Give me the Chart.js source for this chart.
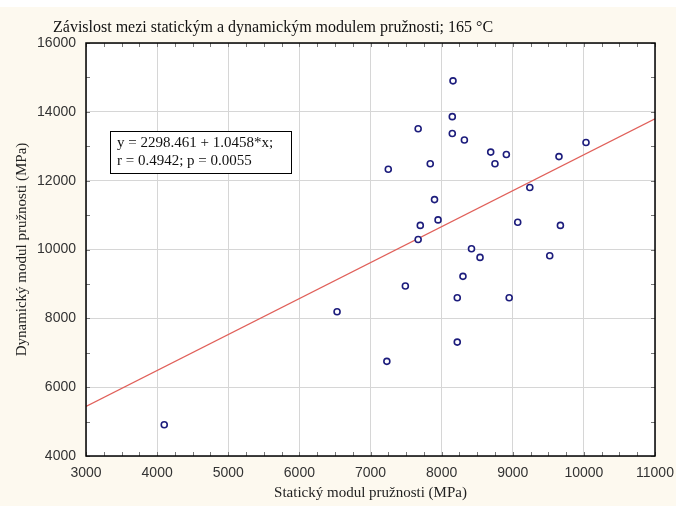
<!DOCTYPE html>
<html lang="cs">
<head>
  <meta charset="UTF-8" />
  <title>Závislost mezi statickým a dynamickým modulem pružnosti</title>
  <script src="https://cdn.jsdelivr.net/npm/chart.js"></script>
  <style>
    html, body {
      margin: 0;
      padding: 0;
      background: #fdf9ef;
    }
    canvas {
      display: block;
    }
  </style>
</head>
<body>
  <canvas id="chart" width="676" height="506"></canvas>

  <script>
    // measured values (MPa)
    const staticModulus = [
      8160, 7670, 8150, 8150, 8320, 7250, 7840, 8690, 8910, 8750,
      9650, 10030, 9240, 7900, 7700, 7950, 7670, 9070, 9670, 8420,
      8540, 9520, 8300, 7490, 8220, 8950, 6530, 8220, 7230, 4100
    ];
    const dynamicModulus = [
      14900, 13510, 13860, 13370, 13180, 12330, 12490, 12830, 12760, 12490,
      12700, 13110, 11800, 11450, 10700, 10860, 10290, 10790, 10700, 10020,
      9770, 9820, 9220, 8940, 8600, 8600, 8190, 7310, 6750, 4910
    ];
    // regression line end points
    const fitX = [3000, 11000];
    const fitY = [5440, 13800];

    const xTicks = [3000, 4000, 5000, 6000, 7000, 8000, 9000, 10000, 11000];
    const yTicks = [4000, 6000, 8000, 10000, 12000, 14000, 16000];

    const chartTitle = 'Závislost mezi statickým a dynamickým modulem pružnosti; 165 °C';
    const fitText = ['y = 2298.461 + 1.0458*x;', 'r = 0.4942; p = 0.0055'];

    const serif = '"Liberation Serif", "Times New Roman", serif';
    const sans = '"Liberation Sans", Arial, sans-serif';

    // background, frame, minor ticks, title and the equation box
    const decor = {
      id: 'decor',
      beforeDraw(chart) {
        const { ctx, chartArea: a } = chart;
        ctx.save();
        ctx.fillStyle = '#ffffff';
        ctx.fillRect(0, 0, chart.width, 7);
        ctx.fillStyle = '#fdf9ef';
        ctx.fillRect(0, 7, chart.width, chart.height - 7);
        ctx.fillStyle = '#ffffff';
        ctx.fillRect(a.left, a.top, a.right - a.left, a.bottom - a.top);
        ctx.restore();
      },
      afterDraw(chart) {
        const { ctx, chartArea: a, scales } = chart;
        const xs = scales.x, ys = scales.y;
        ctx.save();

        // minor ticks on all four sides
        ctx.strokeStyle = '#777';
        ctx.lineWidth = 1;
        ctx.beginPath();
        for (let v = xs.min; v <= xs.max; v += 250) {
          const px = Math.round(xs.getPixelForValue(v)) + 0.5;
          ctx.moveTo(px, a.bottom); ctx.lineTo(px, a.bottom - 4);
          ctx.moveTo(px, a.top); ctx.lineTo(px, a.top + 4);
        }
        for (let v = ys.min; v <= ys.max; v += 1000) {
          const py = Math.round(ys.getPixelForValue(v)) + 0.5;
          ctx.moveTo(a.left, py); ctx.lineTo(a.left + 4, py);
          ctx.moveTo(a.right, py); ctx.lineTo(a.right - 4, py);
        }
        ctx.stroke();

        // frame
        ctx.strokeStyle = '#000';
        ctx.lineWidth = 1.5;
        ctx.strokeRect(a.left, a.top, a.right - a.left, a.bottom - a.top);

        // title
        ctx.fillStyle = '#111';
        ctx.font = '16px ' + serif;
        ctx.textAlign = 'left';
        ctx.textBaseline = 'alphabetic';
        ctx.fillText(chartTitle, 53, 32);

        // equation box
        const bx = a.left + 24, by = a.top + 88, bw = 181, bh = 42;
        ctx.fillStyle = '#fff';
        ctx.fillRect(bx, by, bw, bh);
        ctx.strokeStyle = '#000';
        ctx.lineWidth = 1;
        ctx.strokeRect(bx + 0.5, by + 0.5, bw, bh);
        ctx.fillStyle = '#111';
        ctx.font = '15px ' + serif;
        ctx.textBaseline = 'middle';
        ctx.fillText(fitText[0], bx + 7, by + 12);
        ctx.fillText(fitText[1], bx + 7, by + 30);
        ctx.restore();
      }
    };

    new Chart(document.getElementById('chart').getContext('2d'), {
      type: 'scatter',
      data: {
        datasets: [
          {
            label: 'Regrese',
            type: 'line',
            data: fitX.map((x, i) => ({ x: x, y: fitY[i] })),
            borderColor: '#e0605a',
            borderWidth: 1.3,
            pointRadius: 0,
            fill: false,
            order: 2
          },
          {
            label: 'Data',
            data: staticModulus.map((x, i) => ({ x: x, y: dynamicModulus[i] })),
            backgroundColor: '#ffffff',
            borderColor: '#1c1c7c',
            borderWidth: 1.6,
            pointRadius: 3,
            order: 1
          }
        ]
      },
      options: {
        responsive: false,
        animation: false,
        layout: { padding: { top: 43, right: 21, left: 0, bottom: 0 } },
        plugins: {
          legend: { display: false },
          tooltip: { enabled: false },
          title: { display: false }
        },
        scales: {
          x: {
            type: 'linear',
            min: xTicks[0],
            max: xTicks[xTicks.length - 1],
            afterBuildTicks: s => { s.ticks = xTicks.map(v => ({ value: v })); },
            afterFit: s => {
              s.height = 50;
              s.paddingLeft = 0;
              s.paddingRight = 0;
            },
            grid: { color: '#d6d6d6', lineWidth: 1, drawTicks: false },
            border: { display: false },
            ticks: {
              padding: 9,
              color: '#333',
              font: { family: sans, size: 14 },
              callback: v => String(v)
            },
            title: {
              display: true,
              text: 'Statický modul pružnosti (MPa)',
              color: '#222',
              font: { family: serif, size: 15 },
              padding: { top: 0, bottom: 4 }
            }
          },
          y: {
            type: 'linear',
            min: yTicks[0],
            max: yTicks[yTicks.length - 1],
            afterBuildTicks: s => { s.ticks = yTicks.map(v => ({ value: v })); },
            afterFit: s => {
              s.width = 86;
              s.paddingTop = 0;
              s.paddingBottom = 0;
            },
            grid: { color: '#d6d6d6', lineWidth: 1, drawTicks: false },
            border: { display: false },
            ticks: {
              padding: 10,
              color: '#333',
              font: { family: sans, size: 14 },
              callback: v => String(v)
            },
            title: {
              display: true,
              text: 'Dynamický modul pružnosti (MPa)',
              color: '#222',
              font: { family: serif, size: 15 },
              padding: { top: 13, bottom: 0 }
            }
          }
        }
      },
      plugins: [decor]
    });
  </script>
</body>
</html>
